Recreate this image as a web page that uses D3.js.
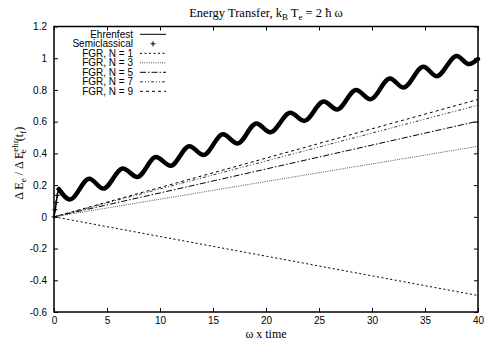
<!DOCTYPE html>
<html>
<head>
<meta charset="utf-8">
<script src="https://cdn.jsdelivr.net/npm/d3@7"></script>
<style>
  body { margin: 0; background: #fff; }
  svg { display: block; }
  .tick text { font-family: "Liberation Sans", Arial, sans-serif; font-size: 10px; fill: #000; }
  .serif { font-family: "Liberation Serif", "Times New Roman", serif; fill: #000; }
  .leg { font-family: "Liberation Sans", Arial, sans-serif; font-size: 10px; fill: #000; }
</style>
</head>
<body>
<svg id="svg" width="485" height="340"></svg>
<script>
// values
var xTicks = [0, 5, 10, 15, 20, 25, 30, 35, 40];
var yTicks = [-0.6, -0.4, -0.2, 0, 0.2, 0.4, 0.6, 0.8, 1, 1.2];

// oscillating curve: start, then troughs / peaks
var waveT = [0, 0.15, 0.3, 0.45, 1.5, 3.33, 4.65, 6.5, 7.86, 9.62, 11.0, 12.77, 14.1, 15.95, 17.3, 19.1,
  20.4, 22.3, 23.6, 25.45, 26.7, 28.5, 29.85, 31.7, 32.95, 34.85, 36.1, 38.0, 39.15, 40];
var ehrenfestE = [0, 0.06, 0.13, 0.175, 0.11, 0.24, 0.178, 0.305, 0.251, 0.377, 0.322, 0.445, 0.39, 0.52, 0.462, 0.589,
  0.533, 0.656, 0.605, 0.727, 0.677, 0.80, 0.742, 0.872, 0.815, 0.946, 0.887, 1.014, 0.963, 0.995];
var semiclassicalE = ehrenfestE.slice();
// crosses that show apart near the start
var semiStartT = [0, 0.1, 0.2, 0.3, 0.45];
var semiStartE = [0, 0.045, 0.09, 0.135, 0.175];

// FGR straight lines, from t=0 to t=40
var fgrT = [0, 40];
var fgrNames = ['FGR, N = 1', 'FGR, N = 3', 'FGR, N = 5', 'FGR, N = 7', 'FGR, N = 9'];
var fgrEnd = [-0.496, 0.445, 0.603, 0.704, 0.74];
var fgrDash = ['2,2.5', '1,1.2', '6,2,1.5,2', '3,2,1,2,1,2', '3,3'];
var fgrColor = ['#000', '#555', '#000', '#333', '#000'];

var svg = d3.select('svg');
var pLeft = 54, pRight = 478, pTop = 26.5, pBottom = 312;

var xScale = d3.scaleLinear().domain([0, 40]).range([pLeft, pRight]);
var yScale = d3.scaleLinear().domain([-0.6, 1.2]).range([pBottom, pTop]);

var fmt = function (d) { return String(+d.toFixed(1)); };

// axes (ticks drawn inward, mirrored)
svg.append('g')
  .attr('transform', `translate(0, ${pBottom})`)
  .call(d3.axisBottom(xScale).tickValues(xTicks).tickSize(-4).tickPadding(5).tickFormat(fmt))
  .call(g => g.select('.domain').remove());
svg.append('g')
  .attr('transform', `translate(0, ${pTop})`)
  .call(d3.axisTop(xScale).tickValues(xTicks).tickSize(-4).tickFormat(''))
  .call(g => g.select('.domain').remove());
svg.append('g')
  .attr('transform', `translate(${pLeft}, 0)`)
  .call(d3.axisLeft(yScale).tickValues(yTicks).tickSize(-4).tickPadding(7).tickFormat(fmt))
  .call(g => g.select('.domain').remove());
svg.append('g')
  .attr('transform', `translate(${pRight}, 0)`)
  .call(d3.axisRight(yScale).tickValues(yTicks).tickSize(-4).tickFormat(''))
  .call(g => g.select('.domain').remove());
svg.selectAll('.tick line').attr('stroke', '#000').attr('stroke-width', 1);

var line = d3.line()
  .x((d) => xScale(d[0]))
  .y((d) => yScale(d[1]));

// FGR lines
fgrEnd.forEach((v, i) => {
  svg.append('path')
    .datum(fgrT.map((t, j) => [t, j === 0 ? 0 : v]))
    .attr('d', line)
    .attr('fill', 'none')
    .attr('stroke', fgrColor[i])
    .attr('stroke-width', 1)
    .attr('stroke-dasharray', fgrDash[i]);
});

// semiclassical: dense crosses look like a thick line
var wave = d3.line()
  .curve(d3.curveMonotoneX)
  .x((d) => xScale(d[0]))
  .y((d) => yScale(d[1]));
svg.append('path')
  .datum(waveT.slice(3).map((t, i) => [t, semiclassicalE[i + 3]]))
  .attr('d', wave)
  .attr('fill', 'none')
  .attr('stroke', '#000')
  .attr('stroke-width', 4.5)
  .attr('stroke-linejoin', 'round')
  .attr('stroke-linecap', 'round');

function cross(g, x, y, s) {
  g.append('path')
    .attr('d', `M${x - s},${y}H${x + s}M${x},${y - s}V${y + s}`)
    .attr('stroke', '#000')
    .attr('stroke-width', 1);
}
var crosses = svg.append('g');
semiStartT.forEach((t, i) => cross(crosses, xScale(t), yScale(semiStartE[i]), 2.5));

// Ehrenfest
svg.append('path')
  .datum(waveT.map((t, i) => [t, ehrenfestE[i]]))
  .attr('d', wave)
  .attr('fill', 'none')
  .attr('stroke', '#000')
  .attr('stroke-width', 1.5);

// border
svg.append('rect')
  .attr('x', pLeft).attr('y', pTop)
  .attr('width', pRight - pLeft).attr('height', pBottom - pTop)
  .attr('fill', 'none').attr('stroke', '#000').attr('stroke-width', 1.5);

// legend
var legNames = ['Ehrenfest', 'Semiclassical'].concat(fgrNames);
var legY = d3.scaleLinear().domain([0, 1]).range([34.3, 43.8]);
legNames.forEach((name, i) => {
  var y = legY(i);
  svg.append('text').attr('class', 'leg')
    .attr('x', 133).attr('y', y + 3.5).attr('text-anchor', 'end').text(name);
  if (i === 0) {
    svg.append('line').attr('x1', 140).attr('x2', 166).attr('y1', y).attr('y2', y)
      .attr('stroke', '#000').attr('stroke-width', 1);
  } else if (i === 1) {
    cross(svg, 153, y, 2.5);
  } else {
    svg.append('line').attr('x1', 140).attr('x2', 166).attr('y1', y).attr('y2', y)
      .attr('stroke', fgrColor[i - 2]).attr('stroke-width', 1)
      .attr('stroke-dasharray', fgrDash[i - 2]);
  }
});

// title
var title = svg.append('text').attr('class', 'serif')
  .attr('x', (pLeft + pRight) / 2).attr('y', 17).attr('text-anchor', 'middle')
  .style('font-size', '12.5px');
title.append('tspan').text('Energy Transfer, k');
title.append('tspan').attr('dy', 3).style('font-size', '9px').text('B');
title.append('tspan').attr('dy', -3).text(' T');
title.append('tspan').attr('dy', 3).style('font-size', '9px').text('e');
title.append('tspan').attr('dy', -3).text(' = 2 \u0127 \u03c9');

// x label
svg.append('text').attr('class', 'serif')
  .attr('x', (pLeft + pRight) / 2).attr('y', 338).attr('text-anchor', 'middle')
  .style('font-size', '12px').text('\u03c9 x time');

// y label
var yl = svg.append('text').attr('class', 'serif')
  .attr('transform', `translate(23, ${(pTop + pBottom) / 2 - 6}) rotate(-90)`)
  .attr('text-anchor', 'middle').style('font-size', '12px');
yl.append('tspan').text('\u0394 E');
yl.append('tspan').attr('dy', 3).style('font-size', '9px').text('e');
yl.append('tspan').attr('dy', -3).text(' / \u0394 E');
yl.append('tspan').attr('dy', -5).style('font-size', '9px').text('ehr');
yl.append('tspan').attr('dx', -13).attr('dy', 8).style('font-size', '9px').text('e');
yl.append('tspan').attr('dx', 8).attr('dy', -3).text('(t');
yl.append('tspan').attr('dy', 3).style('font-size', '9px').text('f');
yl.append('tspan').attr('dy', -3).text(')');
</script>
</body>
</html>
